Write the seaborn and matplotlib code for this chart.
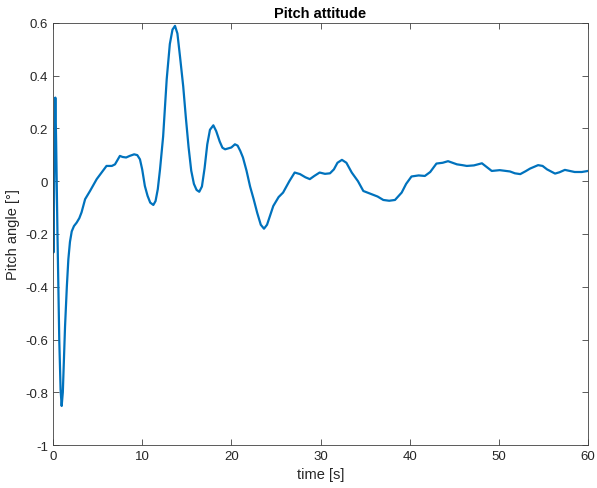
import numpy as np
import pandas as pd
import matplotlib
matplotlib.use("Agg")
import matplotlib.pyplot as plt
import seaborn as sns

# values (time [s], pitch angle [deg])
time_s = [0.0, 0.05, 0.12, 0.2, 0.26, 0.35, 0.5, 0.7, 0.85, 0.97, 1.1, 1.35,
          1.55, 1.72, 1.9, 2.1, 2.35, 2.65, 2.95, 3.2, 3.6, 4.15, 4.9, 5.45,
          6.0, 6.6, 6.95, 7.5, 7.8, 8.2, 8.6, 9.1, 9.45, 9.75, 10.0, 10.3,
          10.6, 10.9, 11.25, 11.5, 11.75, 12.0, 12.35, 12.75, 13.1, 13.4,
          13.68, 13.95, 14.25, 14.6, 14.9, 15.2, 15.5, 15.8, 16.1, 16.4, 16.7,
          17.0, 17.3, 17.6, 17.98, 18.3, 18.7, 19.0, 19.3, 19.7, 20.0, 20.4,
          20.7, 21.0, 21.3, 21.7, 22.1, 22.5, 22.9, 23.3, 23.66, 24.0, 24.4,
          24.7, 25.3, 25.8, 26.5, 27.1, 27.7, 28.3, 28.8, 29.3, 29.9, 30.5,
          31.06, 31.5, 31.9, 32.4, 32.9, 33.5, 34.2, 34.8, 35.7, 36.4, 37.04,
          37.7, 38.35, 39.1, 39.6, 40.2, 41.0, 41.7, 42.3, 43.0, 43.7, 44.3,
          44.8, 45.3, 45.9, 46.4, 47.2, 48.1, 48.6, 49.2, 50.1, 51.25, 51.8,
          52.4, 53.0, 53.5, 54.4, 54.9, 55.4, 56.3, 56.8, 57.4, 58.5, 59.3,
          60.0]
pitch_deg = [0.0, -0.27, -0.05, 0.2, 0.317, 0.15, -0.2, -0.6, -0.79, -0.852,
             -0.8, -0.55, -0.4, -0.296, -0.23, -0.19, -0.17, -0.157, -0.14,
             -0.118, -0.068, -0.037, 0.008, 0.033, 0.058, 0.058, 0.064, 0.096,
             0.092, 0.09, 0.096, 0.102, 0.099, 0.083, 0.045, -0.018, -0.055,
             -0.081, -0.09, -0.075, -0.03, 0.045, 0.17, 0.387, 0.52, 0.575,
             0.589, 0.56, 0.47, 0.36, 0.24, 0.13, 0.04, -0.01, -0.033, -0.04,
             -0.02, 0.05, 0.14, 0.195, 0.212, 0.19, 0.15, 0.127, 0.121, 0.125,
             0.128, 0.14, 0.135, 0.115, 0.09, 0.04, -0.02, -0.068, -0.12,
             -0.165, -0.18, -0.165, -0.125, -0.094, -0.06, -0.043, 0.0, 0.033,
             0.027, 0.015, 0.008, 0.02, 0.033, 0.028, 0.03, 0.045, 0.07, 0.081,
             0.07, 0.033, 0.0, -0.037, -0.049, -0.058, -0.071, -0.074, -0.071,
             -0.043, -0.01, 0.018, 0.022, 0.02, 0.035, 0.067, 0.07, 0.076,
             0.07, 0.064, 0.061, 0.058, 0.06, 0.068, 0.055, 0.039, 0.042,
             0.037, 0.03, 0.027, 0.038, 0.048, 0.061, 0.058, 0.045, 0.029,
             0.034, 0.043, 0.035, 0.035, 0.039]

df = pd.DataFrame({"time": time_s, "pitch": pitch_deg})

sns.set_style("white")
plt.rcParams['font.family'] = ['Liberation Sans', 'DejaVu Sans']

fig = plt.figure(figsize=(5.97, 4.89), dpi=100)
ax = fig.add_axes([0.0888, 0.0879, 0.8962, 0.8631])

sns.lineplot(data=df, x="time", y="pitch", ax=ax, color="#0072BD",
             linewidth=1.6, sort=False)

ax.set_xlim(0, 60)
ax.set_ylim(-1, 0.6)
ax.set_xticks(np.arange(0, 61, 10))
ax.set_yticks(np.arange(-1, 0.61, 0.2))
ax.set_yticklabels(["-1", "-0.8", "-0.6", "-0.4", "-0.2", "0", "0.2", "0.4", "0.6"])

ax.set_title("Pitch attitude", fontsize=10.5, fontweight="bold", color="#000000", pad=4)
ax.set_xlabel("time [s]", fontsize=10.5, color="#262626")
ax.set_ylabel("Pitch angle [°]", fontsize=10.5, color="#262626")

for s in ax.spines.values():
    s.set_visible(True)
    s.set_color("#404040")
    s.set_linewidth(0.6)
ax.tick_params(direction="in", length=4, width=0.6, colors="#404040",
               labelsize=9.5, top=True, right=True, bottom=True, left=True,
               labeltop=False, labelright=False)
for lbl in ax.get_xticklabels() + ax.get_yticklabels():
    lbl.set_color("#262626")

fig.savefig("out.png", dpi=100)
